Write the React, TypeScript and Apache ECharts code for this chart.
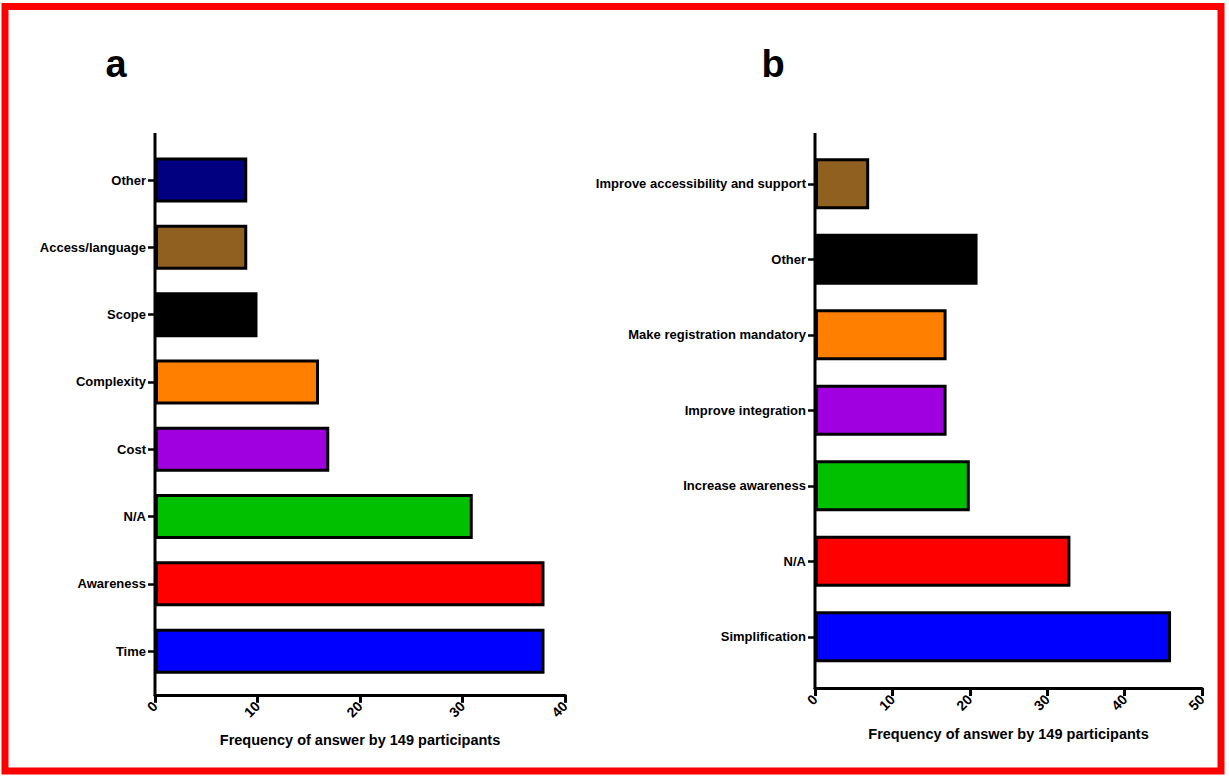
import React, { useEffect, useRef } from "react";
import * as echarts from "echarts";

const catsA = ["Time", "Awareness", "N/A", "Cost", "Complexity", "Scope", "Access/language", "Other"];
const valsA = [38, 38, 31, 17, 16, 10, 9, 9];
const colorsA = ["#0000ff", "#ff0000", "#00c000", "#a000e0", "#ff8000", "#000000", "#8f6020", "#000080"];

const catsB = [
  "Simplification",
  "N/A",
  "Increase awareness",
  "Improve integration",
  "Make registration mandatory",
  "Other",
  "Improve accessibility and support",
];
const valsB = [46, 33, 20, 17, 17, 21, 7];
const colorsB = ["#0000ff", "#ff0000", "#00c000", "#a000e0", "#ff8000", "#000000", "#8f6020"];

const xTitle = "Frequency of answer by 149 participants";
const FONT = "'Liberation Sans', Arial, Helvetica, sans-serif";

export default function App() {
  const ref = useRef<HTMLDivElement>(null);
  useEffect(() => {
    document.body.style.margin = "0";
    const chart = echarts.init(ref.current!, null, { renderer: "svg" });
    const axisLineStyle = { color: "#000", width: 3 };
    const xAxisBase = (gridIndex: number, max: number, offset: number) => ({
      type: "value",
      gridIndex,
      min: 0,
      max,
      interval: 10,
      offset,
      splitLine: { show: false },
      axisLine: { show: true, onZero: false, lineStyle: axisLineStyle },
      axisTick: { show: true, length: 8, lineStyle: { color: "#000", width: 3 } },
      axisLabel: {
        rotate: 45,
        margin: 9,
        color: "#000",
        fontWeight: "bold",
        fontSize: 14,
        fontFamily: FONT,
      },
      name: xTitle,
      nameLocation: "middle",
      nameGap: 38,
      nameTextStyle: { color: "#000", fontWeight: "bold", fontSize: 14.5, fontFamily: FONT, verticalAlign: "top" },
    });
    const yAxisBase = (gridIndex: number, data: string[]) => ({
      type: "category",
      gridIndex,
      data,
      axisLine: { show: false },
      axisTick: { show: true, alignWithLabel: true, length: 7, lineStyle: { color: "#000", width: 2.5 } },
      axisLabel: { margin: 9, color: "#000", fontWeight: "bold", fontSize: 13, fontFamily: FONT },
    });
    chart.setOption({
      animation: false,
      backgroundColor: "#fff",
      grid: [
        { left: 155, top: 146.4, width: 410, height: 538.4 },
        { left: 815, top: 146, width: 387, height: 528.5 },
      ],
      xAxis: [xAxisBase(0, 40, 10), xAxisBase(1, 50, 13.5)],
      yAxis: [yAxisBase(0, catsA), yAxisBase(1, catsB)],
      series: [
        {
          type: "bar",
          xAxisIndex: 0,
          yAxisIndex: 0,
          barWidth: 45,
          data: valsA.map((v, i) => ({ value: v, itemStyle: { color: colorsA[i] } })),
          itemStyle: { borderColor: "#000", borderWidth: 3 },
        },
        {
          type: "bar",
          xAxisIndex: 1,
          yAxisIndex: 1,
          barWidth: 51,
          data: valsB.map((v, i) => ({ value: v, itemStyle: { color: colorsB[i] } })),
          itemStyle: { borderColor: "#000", borderWidth: 3 },
        },
      ],
      graphic: [
        {
          type: "rect",
          shape: { x: 5, y: 6.5, width: 1216, height: 764.5 },
          style: { fill: "none", stroke: "#ff0000", lineWidth: 7 },
          z: 100,
        },
        {
          type: "line",
          shape: { x1: 155, y1: 133, x2: 155, y2: 696 },
          style: { stroke: "#000", lineWidth: 3 },
          z: 50,
        },
        {
          type: "line",
          shape: { x1: 815, y1: 133, x2: 815, y2: 689 },
          style: { stroke: "#000", lineWidth: 3 },
          z: 50,
        },
        {
          type: "text",
          x: 116,
          y: 83,
          style: { text: "a", font: `bold 38px ${FONT}`, fill: "#000", textAlign: "center", textVerticalAlign: "bottom" },
        },
        {
          type: "text",
          x: 773,
          y: 83,
          style: { text: "b", font: `bold 38px ${FONT}`, fill: "#000", textAlign: "center", textVerticalAlign: "bottom" },
        },
      ],
    });
    return () => chart.dispose();
  }, []);
  return <div ref={ref} style={{ position: "fixed", left: 0, top: 0, width: 1229, height: 776 }} />;
}
